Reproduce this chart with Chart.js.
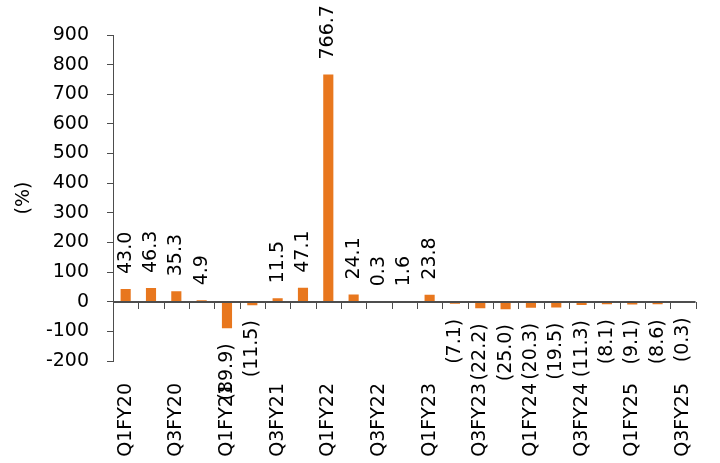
<!DOCTYPE html>
<html>
<head>
<meta charset="utf-8">
<script src="https://cdn.jsdelivr.net/npm/chart.js@4/dist/chart.umd.min.js"></script>
<style>
  html, body { margin: 0; padding: 0; background: #fff; }
  #wrap { width: 720px; height: 463px; position: relative; }
</style>
</head>
<body>
<div id="wrap"><canvas id="c"></canvas></div>
<script>
// Quarterly growth, % (negative values shown in brackets)
const quarters = ['Q1FY20','Q2FY20','Q3FY20','Q4FY20','Q1FY21','Q2FY21','Q3FY21','Q4FY21',
  'Q1FY22','Q2FY22','Q3FY22','Q4FY22','Q1FY23','Q2FY23','Q3FY23','Q4FY23',
  'Q1FY24','Q2FY24','Q3FY24','Q4FY24','Q1FY25','Q2FY25','Q3FY25'];
const growth = [43.0, 46.3, 35.3, 4.9, -89.9, -11.5, 11.5, 47.1,
  766.7, 24.1, 0.3, 1.6, 23.8, -7.1, -22.2, -25.0,
  -20.3, -19.5, -11.3, -8.1, -9.1, -8.6, -0.3];
const yTicks = [-200, -100, 0, 100, 200, 300, 400, 500, 600, 700, 800, 900];

const FONT = 'DejaVu Sans';
const FS = 19;
const AXIS = '#4d4d4d';
const BAR = '#E8771E';

function fmt(v) {
  return v < 0 ? '(' + Math.abs(v).toFixed(1) + ')' : v.toFixed(1);
}

// category axis line along zero with tick marks between quarters,
// then vertical value labels above positive bars and below negative ones
const barDecor = {
  id: 'barDecor',
  afterDatasetsDraw(chart) {
    const ctx = chart.ctx;
    const meta = chart.getDatasetMeta(0);
    const data = chart.data.datasets[0].data;
    const xs = chart.scales.x;
    const ys = chart.scales.y;

    const y0 = Math.round(ys.getPixelForValue(0));
    ctx.save();
    ctx.strokeStyle = AXIS;
    ctx.lineWidth = 2;
    ctx.beginPath();
    ctx.moveTo(xs.left, y0);
    ctx.lineTo(xs.right, y0);
    ctx.stroke();
    ctx.lineWidth = 1;
    ctx.beginPath();
    for (let i = 0; i <= quarters.length; i++) {
      const px = Math.round(xs.getPixelForDecimal(i / quarters.length)) + 0.5;
      ctx.moveTo(px, y0);
      ctx.lineTo(px, y0 + 7);
    }
    ctx.stroke();
    ctx.restore();

    ctx.save();
    ctx.font = FS + 'px "' + FONT + '"';
    ctx.fillStyle = '#000';
    ctx.textBaseline = 'middle';
    meta.data.forEach((bar, i) => {
      const v = data[i];
      const gap = 15;
      ctx.save();
      if (v >= 0) {
        ctx.translate(bar.x, Math.min(bar.y, bar.base) - gap);
        ctx.rotate(-Math.PI / 2);
        ctx.textAlign = 'left';
      } else {
        ctx.translate(bar.x, Math.max(bar.y, bar.base) + gap);
        ctx.rotate(-Math.PI / 2);
        ctx.textAlign = 'right';
      }
      ctx.fillText(fmt(v), 0, 0);
      ctx.restore();
    });
    ctx.restore();
  }
};

new Chart(document.getElementById('c'), {
  type: 'bar',
  data: {
    labels: quarters,
    datasets: [{
      data: growth,
      backgroundColor: BAR,
      borderWidth: 0,
      barPercentage: 0.4,
      categoryPercentage: 1.0
    }]
  },
  options: {
    responsive: true,
    maintainAspectRatio: false,
    animation: false,
    layout: { padding: { top: 35, right: 13, left: 0, bottom: 0 } },
    plugins: { legend: { display: false }, tooltip: { enabled: false } },
    scales: {
      x: {
        type: 'category',
        position: 'bottom',
        offset: true,
        grid: { display: false },
        border: { display: false },
        ticks: {
          autoSkip: false,
          minRotation: 90,
          maxRotation: 90,
          padding: 14,
          color: '#000',
          font: { family: FONT, size: FS },
          callback: function (val, idx) { return idx % 2 === 0 ? this.getLabelForValue(val) : ''; }
        },
        afterFit(scale) { scale.height = 102; }
      },
      y: {
        min: -200,
        max: 900,
        afterBuildTicks(scale) { scale.ticks = yTicks.map(v => ({ value: v })); },
        grid: { display: true, drawOnChartArea: false, drawTicks: true, tickLength: 6, color: AXIS },
        border: { display: true, color: AXIS, width: 1 },
        ticks: {
          padding: 18,
          color: '#000',
          font: { family: FONT, size: FS }
        },
        title: {
          display: true,
          text: '(%)',
          color: '#000',
          font: { family: FONT, size: FS },
          padding: { top: 13, bottom: 0 }
        },
        afterFit(scale) { scale.width = 113; }
      }
    }
  },
  plugins: [barDecor]
});
</script>
</body>
</html>
